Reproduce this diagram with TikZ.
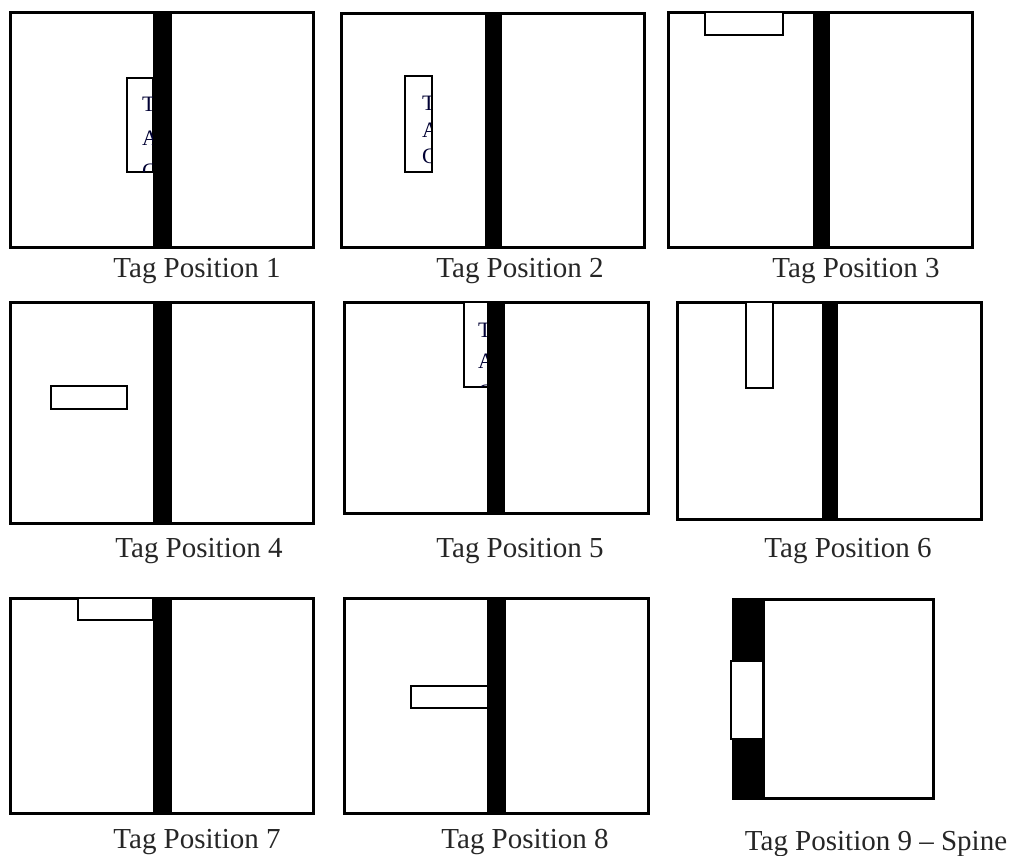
\documentclass[tikz,border=0pt]{standalone}
\usepackage{fontspec}
\setmainfont{Liberation Serif}
\begin{document}
\begin{tikzpicture}[x=1pt,y=-1pt,
  page/.style={draw=black,line width=3pt,fill=white},
  spine/.style={fill=black,draw=none},
  tagbox/.style={draw=black,line width=2.5pt,fill=white},
  caption/.style={anchor=base,inner sep=0pt,font=\fontsize{29}{34}\selectfont,text=black!85},
  tagtxt/.style={anchor=base west,inner sep=0pt,font=\fontsize{22}{24}\selectfont,text=black!80!blue}]
\useasboundingbox (0,0) rectangle (1016,855);
% ---------- Panel 1
\draw[page] (10,12) rectangle (313,247);
\draw[tagbox] (127,78) rectangle (153,172);
\begin{scope}
\clip (128,79) rectangle (153,171);
\node[tagtxt] (t1a) at (142,111) {T};
\node[tagtxt] (t1b) at (142,145) {A};
\node[tagtxt] (t1c) at (142,178) {G};
\end{scope}
\fill[spine] (153,12) rectangle (172,247);
\node[caption] (c1) at (197,277) {Tag Position 1};
% ---------- Panel 2
\draw[page] (341,13) rectangle (644,247);
\draw[tagbox] (405,76) rectangle (432,172);
\begin{scope}
\clip (406,77) rectangle (430,171);
\node[tagtxt] (t2a) at (422,110) {T};
\node[tagtxt] (t2b) at (422,137) {A};
\node[tagtxt] (t2c) at (422,163) {G};
\end{scope}
\fill[spine] (485,13) rectangle (502,247);
\node[caption] (c2) at (520,277) {Tag Position 2};
% ---------- Panel 3
\draw[page] (668,12) rectangle (972,247);
\draw[tagbox] (705,12) rectangle (783,35);
\fill[spine] (813,12) rectangle (830,247);
\node[caption] (c3) at (856,277) {Tag Position 3};
% ---------- Panel 4
\draw[page] (10,302) rectangle (313,523);
\draw[tagbox] (51,386) rectangle (127,409);
\fill[spine] (153,302) rectangle (172,523);
\node[caption] (c4) at (199,557) {Tag Position 4};
% ---------- Panel 5
\draw[page] (344,302) rectangle (648,513);
\draw[tagbox] (464,302) rectangle (488,387);
\begin{scope}
\clip (465,303) rectangle (488,386);
\node[tagtxt] (t5a) at (478,337) {T};
\node[tagtxt] (t5b) at (478,368) {A};
\node[tagtxt] (t5c) at (478,399) {G};
\end{scope}
\fill[spine] (487,302) rectangle (505,513);
\node[caption] (c5) at (520,557) {Tag Position 5};
% ---------- Panel 6
\draw[page] (677,302) rectangle (981,519);
\draw[tagbox] (746,302) rectangle (773,388);
\fill[spine] (822,302) rectangle (838,519);
\node[caption] (c6) at (848,557) {Tag Position 6};
% ---------- Panel 7
\draw[page] (10,598) rectangle (313,813);
\draw[tagbox] (78,598) rectangle (153,620);
\fill[spine] (153,598) rectangle (172,813);
\node[caption] (c7) at (197,848) {Tag Position 7};
% ---------- Panel 8
\draw[page] (344,598) rectangle (648,813);
\draw[tagbox] (411,686) rectangle (488,708);
\fill[spine] (487,598) rectangle (506,813);
\node[caption] (c8) at (525,848) {Tag Position 8};
% ---------- Panel 9
\draw[page] (733,599) rectangle (933,798);
\fill[spine] (733,599) rectangle (765,798);
\draw[tagbox] (731,661) rectangle (763,739);
\node[caption] (c9) at (876,850) {Tag Position 9 -- Spine};
\end{tikzpicture}
\end{document}
